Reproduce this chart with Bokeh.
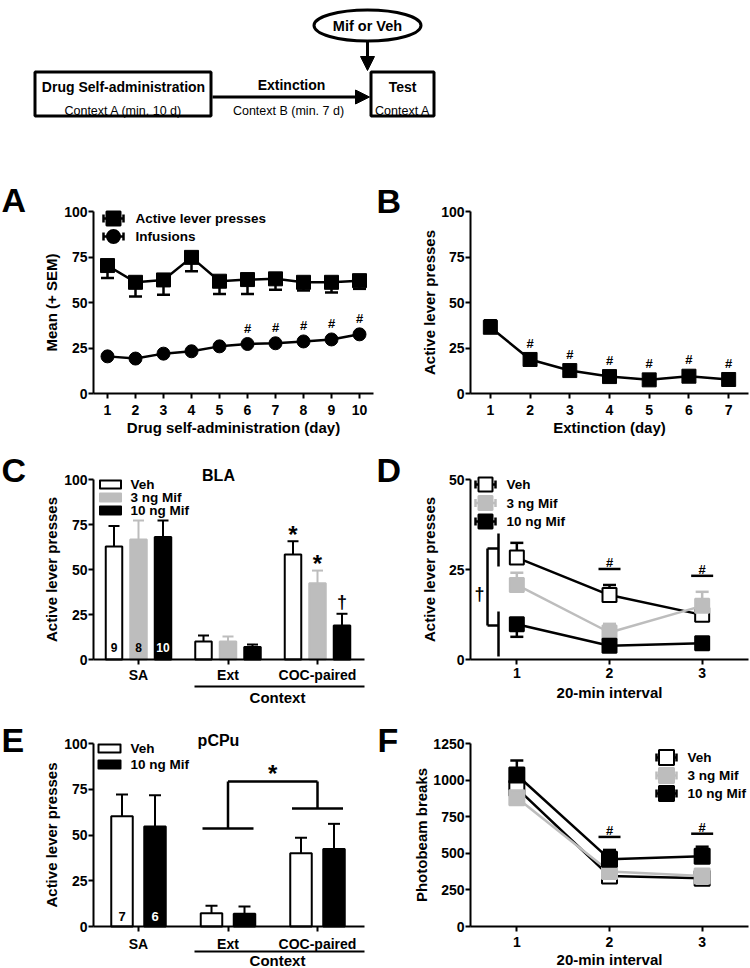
import math
from bokeh.plotting import figure
from bokeh.layouts import column, row
from bokeh.models import Range1d, FixedTicker, LinearAxis, Arrow, NormalHead
from bokeh.embed import file_html
from bokeh.resources import INLINE
from bokeh.core.properties import value

FONT = "Liberation Sans"
GREY = "#bdbdbd"

# ---------------- data ----------------
sa_days = [1, 2, 3, 4, 5, 6, 7, 8, 9, 10]
sa_active_mean = [70.3, 61.1, 62.4, 74.8, 61.7, 62.6, 63.0, 61.1, 61.1, 62.0]
sa_active_sem = [6.8, 7.8, 8.2, 7.6, 7.0, 7.9, 6.0, 4.5, 5.6, 4.5]
sa_infusions_mean = [20.4, 19.2, 21.9, 23.2, 25.9, 27.2, 27.6, 28.6, 29.7, 32.5]
sa_infusions_sig = ["", "", "", "", "", "#", "#", "#", "#", "#"]
sa_legend = ["Active lever presses", "Infusions"]

ext_days = [1, 2, 3, 4, 5, 6, 7]
ext_active_mean = [36.4, 18.7, 12.6, 9.3, 7.5, 9.5, 7.7]
ext_active_sem = [3.8, 2.0, 1.8, 1.5, 1.2, 1.5, 1.3]
ext_sig = ["", "#", "#", "#", "#", "#", "#"]

contexts = ["SA", "Ext", "COC-paired"]
treatments3 = ["Veh", "3 ng Mif", "10 ng Mif"]
treatments2 = ["Veh", "10 ng Mif"]

bla_veh_mean = [62.8, 10.0, 58.3]
bla_veh_sem = [11.3, 3.3, 7.4]
bla_mif3_mean = [66.7, 10.0, 42.4]
bla_mif3_sem = [10.5, 2.8, 7.0]
bla_mif10_mean = [68.0, 6.9, 18.9]
bla_mif10_sem = [9.2, 1.4, 6.5]
bla_n = ["9", "8", "10"]
bla_veh_marks = ["", "", "*"]
bla_mif3_marks = ["", "", "*"]
bla_mif10_marks = ["", "", "\u2020"]

intervals = [1, 2, 3]
int_veh_mean = [28.3, 17.9, 12.4]
int_veh_sem = [4.1, 2.8, 1.5]
int_mif3_mean = [20.7, 7.5, 14.9]
int_mif3_sem = [3.4, 2.4, 3.9]
int_mif10_mean = [9.8, 3.8, 4.5]
int_mif10_sem = [3.5, 1.0, 1.0]
int_sig = ["", "#", "#"]

pcpu_veh_mean = [60.3, 7.2, 40.0]
pcpu_veh_sem = [11.8, 4.2, 8.5]
pcpu_mif10_mean = [54.7, 6.9, 42.4]
pcpu_mif10_sem = [17.0, 4.0, 13.7]
pcpu_n = ["7", "6"]

loco_veh_mean = [945, 345, 330]
loco_veh_sem = [40, 25, 25]
loco_mif3_mean = [880, 375, 345]
loco_mif3_sem = [40, 30, 30]
loco_mif10_mean = [1035, 460, 480]
loco_mif10_sem = [99, 63, 65]
loco_sig = ["", "#", "#"]


# ---------------- helpers ----------------
class Panel:
    """Figure whose frame fills its canvas; the data area (pl..pr, pt..pb in page px)
    carries the ranges xr / yr, axes are fixed at the data-area edges."""

    def __init__(self, fx, fy, w, h, pl, pr, pt, pb, xr, yr, axes=True):
        self.fx, self.fy, self.w, self.h = fx, fy, w, h
        self.sx = (xr[1] - xr[0]) / (pr - pl)
        self.sy = (yr[1] - yr[0]) / (pb - pt)
        self.X0 = xr[0] - (pl - fx) * self.sx
        X1 = xr[1] + (fx + w - pr) * self.sx
        self.Y0 = yr[0] - (fy + h - pb) * self.sy
        Y1 = yr[1] + (pt - fy) * self.sy
        self.xr, self.yr = xr, yr
        self.p = figure(width=w, height=h, x_range=Range1d(self.X0, X1),
                        y_range=Range1d(self.Y0, Y1), output_backend="svg",
                        toolbar_location=None, x_axis_location=None, y_axis_location=None,
                        min_border=0)
        self.p.outline_line_color = None
        self.p.background_fill_color = "white"
        self.p.border_fill_color = "white"
        self.p.xgrid.visible = False
        self.p.ygrid.visible = False
        if axes:
            self.xa = LinearAxis(fixed_location=yr[0], bounds=xr)
            self.ya = LinearAxis(fixed_location=xr[0], bounds=yr)
            self.p.add_layout(self.xa, "below")
            self.p.add_layout(self.ya, "left")

    def X(self, px):
        return self.X0 + (px - self.fx) * self.sx

    def Y(self, py):
        return self.Y0 + (self.fy + self.h - py) * self.sy

    def DX(self, n):
        return n * self.sx

    def DY(self, n):
        return n * self.sy


def style_axes(pn, xticks, yticks, xlabel=None, ylabel=None, xlab_so=3, xtitle_so=2,
               ytitle_so=3, overrides=None):
    xa, ya = pn.xa, pn.ya
    xa.ticker = FixedTicker(ticks=xticks)
    ya.ticker = FixedTicker(ticks=yticks)
    if overrides:
        xa.major_label_overrides = overrides
    for ax in (xa, ya):
        ax.axis_line_width = 2
        ax.axis_line_color = "black"
        ax.major_tick_line_width = 2
        ax.major_tick_line_color = "black"
        ax.major_tick_out = 5
        ax.major_tick_in = 0
        ax.minor_tick_line_color = None
        ax.major_label_text_font = FONT
        ax.major_label_text_font_style = "bold"
        ax.major_label_text_font_size = "14px"
        ax.major_label_text_color = "black"
        ax.axis_label_text_font = FONT
        ax.axis_label_text_font_style = "bold"
        ax.axis_label_text_font_size = "15px"
        ax.axis_label_text_color = "black"
    ya.major_label_standoff = 1
    xa.major_label_standoff = xlab_so
    if xlabel:
        xa.axis_label = xlabel
        xa.axis_label_standoff = xtitle_so
    if ylabel:
        ya.axis_label = ylabel
        ya.axis_label_standoff = ytitle_so


def gtext(pn, xs, ys, texts, size, color="black", align="center", baseline="middle",
          style="bold", font=FONT):
    pn.p.text(x=xs, y=ys, text=texts, text_font=value(font),
              text_font_size=value(f"{size}px"), text_font_style=value(style),
              text_align=value(align), text_baseline=value(baseline), text_color=color)


def ptext(pn, px, py, text, size, align="center", style="bold"):
    gtext(pn, [pn.X(px)], [pn.Y(py)], [text], size, align=align, style=style)


def errbars(pn, xs, means, sems, direction, color, cap, lw=2.5):
    ends = [m + direction * s for m, s in zip(means, sems)]
    pn.p.segment(x0=xs, y0=means, x1=xs, y1=ends, line_color=color, line_width=lw)
    pn.p.scatter(x=xs, y=ends, marker="dash", size=cap, line_color=color, line_width=lw)


def line_legend(pn, cx, cy, half, marker, size, fill, line, text, text_x):
    p = pn.p
    y = pn.Y(cy)
    p.segment(x0=[pn.X(cx - half)], y0=[y], x1=[pn.X(cx + half)], y1=[y],
              line_color=line, line_width=2.5)
    p.segment(x0=[pn.X(cx - half), pn.X(cx + half)], y0=[pn.Y(cy - 4)] * 2,
              x1=[pn.X(cx - half), pn.X(cx + half)], y1=[pn.Y(cy + 4)] * 2,
              line_color=line, line_width=2.5)
    p.scatter(x=[pn.X(cx)], y=[y], marker=marker, size=size, fill_color=fill,
              line_color=line, line_width=2)
    gtext(pn, [pn.X(text_x)], [y], [text], 13.5, align="left")


def bar_legend(pn, cx, cy, w, h, fill, line, text, text_x):
    pn.p.rect(x=[pn.X(cx)], y=[pn.Y(cy)], width=pn.DX(w), height=pn.DY(h),
              fill_color=fill, line_color=line, line_width=2, line_join="round")
    gtext(pn, [pn.X(text_x)], [pn.Y(cy)], [text], 13.5, align="left")


def hline(pn, x0px, x1px, ypx, lw=2):
    pn.p.segment(x0=[pn.X(x0px)], y0=[pn.Y(ypx)], x1=[pn.X(x1px)], y1=[pn.Y(ypx)],
                 line_color="black", line_width=lw)


# ---------------- schematic ----------------
T = Panel(0, 0, 750, 148, 0, 750, 0, 148, (0, 750), (148, 0), axes=False)
t = T.p
t.quad(left=[34.5, 370.5], right=[210.5, 433.5], top=[71.5, 71.5], bottom=[115.5, 115.5],
       fill_color="white", line_color="black", line_width=3)
t.ellipse(x=[367], y=[25], width=[107], height=[31], fill_color="white",
          line_color="black", line_width=3)
t.add_layout(Arrow(end=NormalHead(size=14, fill_color="black", line_color="black", line_width=1),
                   x_start=212, y_start=96.5, x_end=369, y_end=96.5,
                   line_color="black", line_width=3))
t.add_layout(Arrow(end=NormalHead(size=14, fill_color="black", line_color="black", line_width=1),
                   x_start=367, y_start=41, x_end=367, y_end=70,
                   line_color="black", line_width=3))
gtext(T, [123, 291, 402], [86, 84, 86], ["Drug Self-administration", "Extinction", "Test"], 14)
gtext(T, [367], [25], ["Mif or Veh"], 14.5)
gtext(T, [123, 288, 402], [110, 110, 110],
      ["Context A (min. 10 d)", "Context B (min. 7 d)", "Context A"], 12.5, style="normal")

# ---------------- A ----------------
A = Panel(0, 148, 375, 297, 93, 373, 211, 393, (0.5, 10.5), (0, 100))
style_axes(A, sa_days, [0, 25, 50, 75, 100], xlabel="Drug self-administration (day)",
           ylabel="Mean (+ SEM)", xlab_so=6, xtitle_so=1, ytitle_so=1)
errbars(A, sa_days, sa_active_mean, sa_active_sem, -1, "black", 13)
A.p.line(sa_days, sa_active_mean, line_color="black", line_width=2.5)
A.p.scatter(sa_days, sa_active_mean, marker="square", size=14, fill_color="black",
            line_color="black")
A.p.line(sa_days, sa_infusions_mean, line_color="black", line_width=2.5)
A.p.scatter(sa_days, sa_infusions_mean, marker="circle", size=13, fill_color="black",
            line_color="black")
sx = [d for d, s in zip(sa_days, sa_infusions_sig) if s]
sy = [m + 8.5 for m, s in zip(sa_infusions_mean, sa_infusions_sig) if s]
gtext(A, sx, sy, [s for s in sa_infusions_sig if s], 13)
line_legend(A, 113, 218, 10, "square", 14, "black", "black", sa_legend[0], 135)
line_legend(A, 113, 236, 10, "circle", 13, "black", "black", sa_legend[1], 135)
ptext(A, 1, 199.5, "A", 34, align="left")

# ---------------- B ----------------
B = Panel(375, 148, 375, 297, 470, 748, 211, 393, (0.5, 7.5), (0, 100))
style_axes(B, ext_days, [0, 25, 50, 75, 100], xlabel="Extinction (day)",
           ylabel="Active lever presses", xlab_so=6, xtitle_so=1, ytitle_so=0)
errbars(B, ext_days, ext_active_mean, ext_active_sem, 1, "black", 13)
B.p.line(ext_days, ext_active_mean, line_color="black", line_width=2.5)
B.p.scatter(ext_days, ext_active_mean, marker="square", size=14, fill_color="black",
            line_color="black")
bx = [d for d, s in zip(ext_days, ext_sig) if s]
by = [m + 9 for m, s in zip(ext_active_mean, ext_sig) if s]
gtext(B, bx, by, [s for s in ext_sig if s], 13)
ptext(B, 376, 200, "B", 34, align="left")

# ---------------- C ----------------
C = Panel(0, 445, 375, 260, 93, 364, 479, 659,
          (-(138 - 93) / 89.5, (364 - 138) / 89.5), (0, 100))
gx = list(range(len(contexts)))
style_axes(C, gx, [0, 25, 50, 75, 100], ylabel="Active lever presses",
           overrides={i: c for i, c in enumerate(contexts)}, xlab_so=2, ytitle_so=1)
pitch = C.DX(24.5)
bw = C.DX(16.5)
c_series = [(bla_veh_mean, bla_veh_sem, "white", "black", bla_veh_marks),
            (bla_mif3_mean, bla_mif3_sem, GREY, GREY, bla_mif3_marks),
            (bla_mif10_mean, bla_mif10_sem, "black", "black", bla_mif10_marks)]
n_x = []
for k, (m, s, fill, line, marks) in enumerate(c_series):
    xs = [g + (k - 1) * pitch for g in gx]
    n_x.append(xs[0])
    errbars(C, xs, m, s, 1, line, 11, lw=2)
    C.p.vbar(x=xs, top=m, width=bw, bottom=0, fill_color=fill, line_color=line, line_width=2)
    for xi, mi, si, mk in zip(xs, m, s, marks):
        if mk:
            off = 7 if mk == "*" else 12
            gtext(C, [xi], [mi + si + C.DY(off)], [mk], 24 if mk == "*" else 18)
gtext(C, n_x, [C.Y(647)] * 3, bla_n, 12, color=["black", "black", "white"])
for i, (fill, line) in enumerate([("white", "black"), (GREY, GREY), ("black", "black")]):
    bar_legend(C, 110, 484 + 13 * i, 21, 8, fill, line, treatments3[i], 130)
ptext(C, 218, 475, "BLA", 16)
hline(C, 194, 364, 686)
ptext(C, 277, 697, "Context", 15)
ptext(C, 1, 469, "C", 34, align="left")

# ---------------- D ----------------
D = Panel(375, 445, 375, 260, 470, 748, 479, 659, (0.5, 3.5), (0, 50))
style_axes(D, intervals, [0, 25, 50], xlabel="20-min interval",
           ylabel="Active lever presses", xlab_so=3, xtitle_so=3, ytitle_so=8)
d_series = [(int_veh_mean, int_veh_sem, 1, "white", "black"),
            (int_mif3_mean, int_mif3_sem, 1, GREY, GREY),
            (int_mif10_mean, int_mif10_sem, -1, "black", "black")]
for m, s, d, fill, line in d_series:
    errbars(D, intervals, m, s, d, line, 13)
    D.p.line(intervals, m, line_color=line, line_width=2.5)
    D.p.scatter(intervals, m, marker="square", size=14, fill_color=fill, line_color=line,
                line_width=2)
for i, sg in enumerate(int_sig):
    if sg:
        top = max(max(m[i], m[i] + d * s[i]) for m, s, d, _, _ in d_series)
        ly = top + D.DY(16)
        D.p.segment(x0=[intervals[i] - D.DX(11)], y0=[ly], x1=[intervals[i] + D.DX(11)],
                    y1=[ly], line_color="black", line_width=2.5)
        gtext(D, [intervals[i]], [ly + D.DY(6)], [sg], 13)
br = [((487, 548), (487, 625)), ((487, 548), (498, 548)), ((487, 625), (498, 625)),
      ((498, 533), (498, 566)), ((498, 611), (498, 656))]
D.p.segment(x0=[D.X(a[0]) for a, b in br], y0=[D.Y(a[1]) for a, b in br],
            x1=[D.X(b[0]) for a, b in br], y1=[D.Y(b[1]) for a, b in br],
            line_color="black", line_width=2.5)
ptext(D, 479, 593, "\u2020", 18)
for i, (fill, line) in enumerate([("white", "black"), (GREY, GREY), ("black", "black")]):
    line_legend(D, 485, 484 + 18.5 * i, 10, "square", 14, fill, line, treatments3[i], 506)
ptext(D, 376, 469, "D", 34, align="left")

# ---------------- E ----------------
E = Panel(0, 705, 375, 263, 93, 364, 743, 926,
          (-(138 - 93) / 89.5, (364 - 138) / 89.5), (0, 100))
style_axes(E, gx, [0, 25, 50, 75, 100], ylabel="Active lever presses",
           overrides={i: c for i, c in enumerate(contexts)}, xlab_so=4, ytitle_so=1)
pitch_e = E.DX(33)
bw_e = E.DX(21.5)
e_series = [(pcpu_veh_mean, pcpu_veh_sem, "white", "black"),
            (pcpu_mif10_mean, pcpu_mif10_sem, "black", "black")]
ne_x = []
for k, (m, s, fill, line) in enumerate(e_series):
    xs = [g + (k - 0.5) * pitch_e for g in gx]
    ne_x.append(xs[0])
    errbars(E, xs, m, s, 1, line, 12, lw=2)
    E.p.vbar(x=xs, top=m, width=bw_e, bottom=0, fill_color=fill, line_color=line, line_width=2)
gtext(E, ne_x, [E.Y(916)] * 2, pcpu_n, 13, color=["black", "white"])
hw = E.DX(25.5)
ytop, yl, yr_ = E.Y(781), E.Y(828), E.Y(808)
E.p.segment(x0=[gx[1], gx[1], gx[2], gx[1] - hw, gx[2] - hw],
            y0=[ytop, ytop, ytop, yl, yr_],
            x1=[gx[2], gx[1], gx[2], gx[1] + hw, gx[2] + hw],
            y1=[ytop, yl, yr_, yl, yr_], line_color="black", line_width=2.5)
gtext(E, [(gx[1] + gx[2]) / 2], [E.Y(773)], ["*"], 24)
for i, (fill, line) in enumerate([("white", "black"), ("black", "black")]):
    bar_legend(E, 109, 748 + 16 * i, 22, 8, fill, line, treatments2[i], 130)
ptext(E, 218, 740, "pCPu", 16)
hline(E, 194, 364, 951)
ptext(E, 277, 960, "Context", 15)
ptext(E, 1, 739, "E", 34, align="left")

# ---------------- F ----------------
F = Panel(375, 705, 375, 263, 470, 748, 743, 926, (0.5, 3.5), (0, 1250))
style_axes(F, intervals, [0, 250, 500, 750, 1000, 1250], xlabel="20-min interval",
           xlab_so=5, xtitle_so=1, ytitle_so=0, ylabel="Photobeam breaks")
f_series = [(loco_veh_mean, loco_veh_sem, "white", "black"),
            (loco_mif3_mean, loco_mif3_sem, GREY, GREY),
            (loco_mif10_mean, loco_mif10_sem, "black", "black")]
for m, s, fill, line in f_series:
    errbars(F, intervals, m, s, 1, line, 13)
    F.p.line(intervals, m, line_color=line, line_width=2.5)
    F.p.scatter(intervals, m, marker="square", size=15, fill_color=fill, line_color=line,
                line_width=2)
for i, sg in enumerate(loco_sig):
    if sg:
        top = max(m[i] + s[i] for m, s, _, _ in f_series)
        ly = top + F.DY(13)
        F.p.segment(x0=[intervals[i] - F.DX(11)], y0=[ly], x1=[intervals[i] + F.DX(11)],
                    y1=[ly], line_color="black", line_width=2.5)
        gtext(F, [intervals[i]], [ly + F.DY(6)], [sg], 13)
for i, (fill, line) in enumerate([("white", "black"), (GREY, GREY), ("black", "black")]):
    line_legend(F, 666, 757 + 18 * i, 10, "square", 15, fill, line, treatments3[i], 687)
ptext(F, 377, 739, "F", 34, align="left")

layout = column(T.p, row(A.p, B.p), row(C.p, D.p), row(E.p, F.p))
open("out.html", "w").write(file_html(layout, INLINE))
